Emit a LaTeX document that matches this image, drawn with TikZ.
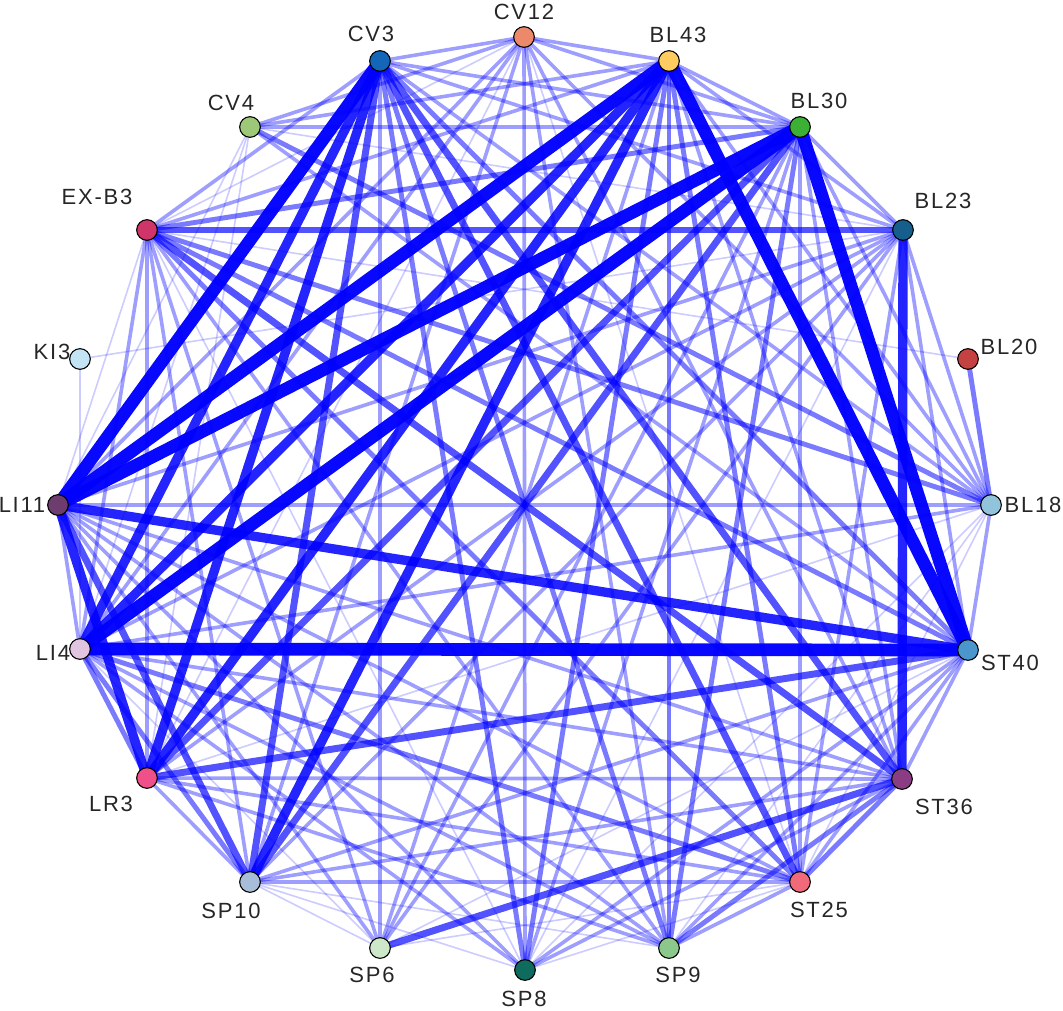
\documentclass[tikz,border=0pt]{standalone}
\usepackage{fontspec}
\setmainfont{Liberation Sans}[LetterSpace=8]
\begin{document}
\begin{tikzpicture}[x=0.75pt,y=-0.75pt,
  ed/.style={draw={rgb,255:red,0;green,0;blue,255}},
  e1/.style={ed,line width=1.2pt,draw opacity=0.2},
  e2/.style={ed,line width=2.7pt,draw opacity=0.38},
  e3/.style={ed,line width=3.7pt,draw opacity=0.52},
  e4/.style={ed,line width=5.2pt,draw opacity=0.68},
  e5/.style={ed,line width=7pt,draw opacity=0.86},
  e6/.style={ed,line width=9.5pt,draw opacity=0.97},
  pt/.style={circle,draw=black,line width=0.8pt,minimum size=15.5pt,inner sep=0pt},
  lab/.style={font=\fontsize{16.5}{18}\selectfont,text=black!85,inner sep=0pt}]
\useasboundingbox (0,0) rectangle (1063,1010);
\coordinate (CV12) at (524,37);
\coordinate (BL43) at (669,61);
\coordinate (BL30) at (800,127);
\coordinate (BL23) at (903,230);
\coordinate (BL20) at (968,359);
\coordinate (BL18) at (991,505);
\coordinate (ST40) at (968,650);
\coordinate (ST36) at (902,779);
\coordinate (ST25) at (800,882);
\coordinate (SP9) at (669,948);
\coordinate (SP8) at (525,970);
\coordinate (SP6) at (380,948);
\coordinate (SP10) at (250,882);
\coordinate (LR3) at (147,778);
\coordinate (LI4) at (80,649);
\coordinate (LI11) at (58,505);
\coordinate (KI3) at (80,359);
\coordinate (EXB3) at (147,230);
\coordinate (CV4) at (250,127);
\coordinate (CV3) at (380,61);
% light edges
\foreach \a/\b/\s in {
 CV12/CV3/e2, CV12/BL43/e2, CV12/BL30/e2, CV12/SP8/e2, CV12/LI4/e2, CV12/SP10/e2,
 CV12/SP9/e2, CV12/ST36/e2, CV12/BL18/e2, CV12/LR3/e1, CV12/CV4/e2, CV12/ST25/e1,
 CV12/LI11/e2, CV12/EXB3/e1,
 CV3/EXB3/e2, CV3/SP6/e2, CV3/BL18/e2, CV3/BL23/e2, CV3/BL30/e2,
 BL43/BL30/e2, BL43/BL23/e2, BL43/BL18/e2, BL43/EXB3/e2, BL43/CV4/e2, BL43/SP6/e2, BL43/ST36/e2,
 BL30/BL23/e2, BL30/BL18/e2, BL30/ST36/e2, BL30/ST25/e2, BL30/CV4/e2, BL30/SP8/e2, BL30/SP6/e2,
 BL23/LI4/e2, BL23/LR3/e2, BL23/SP10/e2, BL23/SP6/e2, BL23/LI11/e2, BL23/ST25/e2, BL23/BL18/e2,
 BL23/SP8/e1, BL23/ST40/e2, BL23/KI3/e1, BL23/CV4/e1,
 BL20/EXB3/e1,
 BL18/LI11/e2, BL18/ST40/e2, BL18/LI4/e2, BL18/ST25/e1, BL18/SP9/e1, BL18/SP8/e1, BL18/LR3/e1,
 ST40/CV4/e2, ST40/SP10/e2, ST40/SP9/e2, ST40/SP8/e2, ST40/ST25/e2, ST40/SP6/e1, ST40/ST36/e2,
 ST36/LR3/e2, ST36/LI4/e2, ST36/SP10/e2, ST36/SP8/e2, ST36/LI11/e2,
 ST25/SP10/e2, ST25/SP9/e2, ST25/SP8/e1, ST25/SP6/e1, ST25/LI11/e2, ST25/LR3/e2,
 SP9/LI11/e2, SP9/LI4/e2, SP9/LR3/e2, SP9/SP10/e1, SP9/EXB3/e2,
 SP8/LI4/e2, SP8/SP10/e1, SP8/LI11/e2, SP8/EXB3/e1,
 SP6/EXB3/e2, SP6/LI11/e2, SP6/LI4/e1, SP6/SP10/e1,
 SP10/EXB3/e2, SP10/LR3/e2,
 LR3/EXB3/e2, LR3/CV4/e1,
 LI4/KI3/e1, LI4/EXB3/e2, LI4/CV4/e1, LI4/LI11/e2,
 LI11/EXB3/e1, LI11/CV4/e1}
 \draw[\s] (\a) -- (\b);
% medium edges
\foreach \a/\b/\s in {
 EXB3/BL18/e3, CV4/BL18/e3, EXB3/BL30/e3, EXB3/ST40/e3, EXB3/ST25/e3, BL20/BL18/e3,
 CV3/SP8/e3, CV3/SP9/e3, CV3/ST40/e3, BL43/SP9/e3, BL43/SP8/e3, BL43/ST25/e3,
 BL30/SP9/e3, ST36/ST25/e3, ST36/SP9/e3, LI4/SP10/e3, LI4/ST25/e3, LI4/LR3/e3,
 EXB3/BL23/e4, SP6/ST36/e4, LR3/ST40/e4, SP10/CV3/e4, SP10/BL30/e4, EXB3/ST36/e4,
 CV3/ST25/e4, SP10/LI11/e4, CV3/ST36/e4, BL30/LR3/e4}
 \draw[\s] (\a) -- (\b);
% heavy edges
\foreach \a/\b/\s in {
 LI4/CV3/e5, LI4/BL43/e5, LI11/ST40/e5, LR3/BL43/e5, LR3/CV3/e5, BL23/ST36/e5,
 LR3/LI11/e5, SP10/BL43/e5,
 LI11/CV3/e6, LI11/BL43/e6, LI11/BL30/e6, LI4/BL30/e6, LI4/ST40/e6, BL43/ST40/e6, BL30/ST40/e6}
 \draw[\s] (\a) -- (\b);
% nodes
\node[pt,fill={rgb,255:red,236;green,137;blue,106}] (nCV12) at (CV12) {};
\node[pt,fill={rgb,255:red,253;green,203;blue,95}] (nBL43) at (BL43) {};
\node[pt,fill={rgb,255:red,60;green,176;blue,52}] (nBL30) at (BL30) {};
\node[pt,fill={rgb,255:red,22;green,95;blue,140}] (nBL23) at (BL23) {};
\node[pt,fill={rgb,255:red,197;green,66;blue,66}] (nBL20) at (BL20) {};
\node[pt,fill={rgb,255:red,145;green,196;blue,219}] (nBL18) at (BL18) {};
\node[pt,fill={rgb,255:red,76;green,150;blue,206}] (nST40) at (ST40) {};
\node[pt,fill={rgb,255:red,139;green,61;blue,132}] (nST36) at (ST36) {};
\node[pt,fill={rgb,255:red,240;green,106;blue,122}] (nST25) at (ST25) {};
\node[pt,fill={rgb,255:red,140;green,200;blue,140}] (nSP9) at (SP9) {};
\node[pt,fill={rgb,255:red,14;green,107;blue,94}] (nSP8) at (SP8) {};
\node[pt,fill={rgb,255:red,205;green,232;blue,200}] (nSP6) at (SP6) {};
\node[pt,fill={rgb,255:red,168;green,189;blue,216}] (nSP10) at (SP10) {};
\node[pt,fill={rgb,255:red,240;green,80;blue,138}] (nLR3) at (LR3) {};
\node[pt,fill={rgb,255:red,224;green,196;blue,224}] (nLI4) at (LI4) {};
\node[pt,fill={rgb,255:red,110;green,60;blue,110}] (nLI11) at (LI11) {};
\node[pt,fill={rgb,255:red,194;green,228;blue,245}] (nKI3) at (KI3) {};
\node[pt,fill={rgb,255:red,208;green,53;blue,106}] (nEXB3) at (EXB3) {};
\node[pt,fill={rgb,255:red,156;green,200;blue,120}] (nCV4) at (CV4) {};
\node[pt,fill={rgb,255:red,20;green,102;blue,184}] (nCV3) at (CV3) {};
% labels
\node[lab] (lCV12) at (524,12) {CV12};
\node[lab] (lBL43) at (678,35) {BL43};
\node[lab] (lBL30) at (819,101) {BL30};
\node[lab] (lBL23) at (943,201) {BL23};
\node[lab] (lBL20) at (1009,347) {BL20};
\node[lab] (lBL18) at (1033,505) {BL18};
\node[lab] (lST40) at (1010,663) {ST40};
\node[lab] (lST36) at (944,807) {ST36};
\node[lab] (lST25) at (819,910) {ST25};
\node[lab] (lSP9) at (678,975) {SP9};
\node[lab] (lSP8) at (524,999) {SP8};
\node[lab] (lSP6) at (372,975) {SP6};
\node[lab] (lSP10) at (231,911) {SP10};
\node[lab] (lLR3) at (111,804) {LR3};
\node[lab] (lLI4) at (53,653) {LI4};
\node[lab] (lLI11) at (22,505) {LI11};
\node[lab] (lKI3) at (52,352) {KI3};
\node[lab] (lEXB3) at (97,197) {EX-B3};
\node[lab] (lCV4) at (231,103) {CV4};
\node[lab] (lCV3) at (371,34) {CV3};
\end{tikzpicture}
\end{document}
